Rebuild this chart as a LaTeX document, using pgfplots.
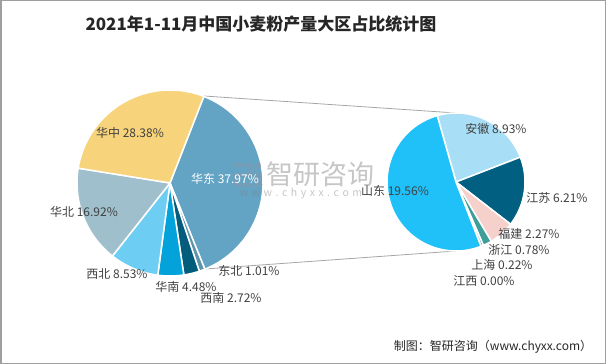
\documentclass[border=0pt]{standalone}
\usepackage{pgfplots}
\usepackage{pgfplotstable}
\pgfplotsset{compat=1.18}
\usepackage{fontspec}
\setmainfont{Noto Sans CJK SC}
\definecolor{cHZ}{HTML}{F7D47B}
\definecolor{cHD}{HTML}{63A3C4}
\definecolor{cDB}{HTML}{5E93AC}
\definecolor{cXN}{HTML}{045C7C}
\definecolor{cHN}{HTML}{03A2DA}
\definecolor{cXB}{HTML}{6DCDF3}
\definecolor{cHB}{HTML}{A0BFCD}
\definecolor{cSD}{HTML}{1FC1F8}
\definecolor{cAH}{HTML}{A8DEF6}
\definecolor{cJS}{HTML}{015F82}
\definecolor{cFJ}{HTML}{F6D0CA}
\definecolor{cZJ}{HTML}{3E9E98}
\definecolor{cSH}{HTML}{6FB7C9}
\definecolor{cJX}{HTML}{9AC7D8}
\definecolor{txt}{HTML}{404040}
\definecolor{wm}{HTML}{8A9AA8}
% left pie: clockwise from the top boundary of 华东
\pgfplotstableread{
name value color
HuaDong 37.97 cHD
DongBei 1.01 cDB
XiNan 2.72 cXN
HuaNan 4.48 cHN
XiBei 8.53 cXB
HuaBei 16.92 cHB
HuaZhong 28.38 cHZ
}\lefttab
% right pie (breakdown of 华东), clockwise from 安徽
\pgfplotstableread{
name value color
AnHui 8.93 cAH
JiangSu 6.21 cJS
FuJian 2.27 cFJ
ZheJiang 0.78 cZJ
ShangHai 0.22 cSH
JiangXi 0.00 cJX
ShanDong 19.56 cSD
}\righttab
\newcommand{\lbl}{\fontsize{12bp}{14bp}\selectfont}
\begin{document}
\begin{tikzpicture}
\begin{axis}[scale only axis, width=606bp, height=364bp,
  xmin=0, xmax=606, ymin=0, ymax=364, hide axis, clip=false]
% connector lines
\draw[color=gray!70, line width=0.8bp] (axis cs:204,268) -- (axis cs:456,251);
\draw[color=gray!70, line width=0.8bp] (axis cs:205,95) -- (axis cs:456,113);
% left pie
\pgfplotstablegetrowsof{\lefttab}
\pgfmathtruncatemacro\nrows{\pgfplotsretval-1}
\def\curangle{68.7}
\pgfplotsforeachungrouped \i in {0,...,\nrows}{%
  \pgfplotstablegetelem{\i}{value}\of\lefttab \let\v\pgfplotsretval
  \pgfplotstablegetelem{\i}{color}\of\lefttab \let\c\pgfplotsretval
  \pgfmathsetmacro\endangle{\curangle - 3.6*\v}%
  \edef\temp{\noexpand\fill[\c, draw=white, line width=1.5bp, line join=round] (axis cs:170,181) -- ++(\curangle:93bp) arc[start angle=\curangle, end angle=\endangle, radius=93bp] -- cycle;}%
  \temp
  \let\curangle\endangle
}
% right pie
\pgfplotstablegetrowsof{\righttab}
\pgfmathtruncatemacro\nrows{\pgfplotsretval-1}
\def\curangle{105.8}
\pgfplotsforeachungrouped \i in {0,...,\nrows}{%
  \pgfplotstablegetelem{\i}{value}\of\righttab \let\v\pgfplotsretval
  \pgfplotstablegetelem{\i}{color}\of\righttab \let\c\pgfplotsretval
  \pgfmathsetmacro\endangle{\curangle - 360*\v/37.97}%
  \edef\temp{\noexpand\fill[\c, draw=white, line width=1.5bp, line join=round] (axis cs:456,182) -- ++(\curangle:69bp) arc[start angle=\curangle, end angle=\endangle, radius=69bp] -- cycle;}%
  \temp
  \let\curangle\endangle
}
% watermark logo (shape) drawn below labels
\draw[wm, opacity=0.45, line width=4.5bp, line cap=butt, line join=miter]
  (axis cs:233,199) -- (axis cs:252,199) -- (axis cs:252,189) -- (axis cs:235,189) -- (axis cs:235,179) -- (axis cs:253,179);
\fill[wm, opacity=0.45] (axis cs:256,195) rectangle (axis cs:261,201);
\fill[wm, opacity=0.45] (axis cs:256,177) rectangle (axis cs:261,192);
% labels left
\node[text=txt, font=\lbl] at (axis cs:130,231) {华中 28.38\%};
\node[text=white, font=\lbl] at (axis cs:225,185) {华东 37.97\%};
\node[text=txt, font=\lbl] at (axis cs:84,152) {华北 16.92\%};
\node[text=txt, font=\lbl] at (axis cs:117,90) {西北 8.53\%};
\node[text=txt, font=\lbl] at (axis cs:186,77) {华南 4.48\%};
\node[text=txt, font=\lbl] at (axis cs:231,66) {西南 2.72\%};
\node[text=txt, font=\lbl] at (axis cs:249,93) {东北 1.01\%};
% labels right
\node[text=txt, font=\lbl] at (axis cs:395,173) {山东 19.56\%};
\node[text=txt, font=\lbl] at (axis cs:496,235) {安徽 8.93\%};
\node[text=txt, font=\lbl] at (axis cs:557,166) {江苏 6.21\%};
\node[text=txt, font=\lbl] at (axis cs:529,130) {福建 2.27\%};
\node[text=txt, font=\lbl] at (axis cs:519,114) {浙江 0.78\%};
\node[text=txt, font=\lbl] at (axis cs:502,99) {上海 0.22\%};
\node[text=txt, font=\lbl] at (axis cs:484,83) {江西 0.00\%};
% watermark text
\node[text=gray, opacity=0.45, inner sep=0pt, font=\fontsize{27bp}{28bp}\selectfont] at (axis cs:320,190) {智研咨询};
\node[text=gray, opacity=0.45, inner sep=0pt, font=\fontsize{10.5bp}{11bp}\selectfont] at (axis cs:301,170) {w\,\,w\,\,w\,\,.\,\,c\,\,h\,\,y\,\,x\,\,x\,\,.\,\,c\,\,o\,\,m};
% title and footer
\node[text=black!85, font=\fontsize{17bp}{19bp}\selectfont\bfseries] at (axis cs:261,340) {2021年1-11月中国小麦粉产量大区占比统计图};
\node[text=black!85, font=\fontsize{12bp}{14bp}\selectfont] at (axis cs:493,17) {制图：智研咨询（www.chyxx.com）};
% border
\draw[color=gray!75, line width=1.5bp] (axis cs:0.75,0.75) rectangle (axis cs:605.25,363.25);
\end{axis}
\end{tikzpicture}
\end{document}
